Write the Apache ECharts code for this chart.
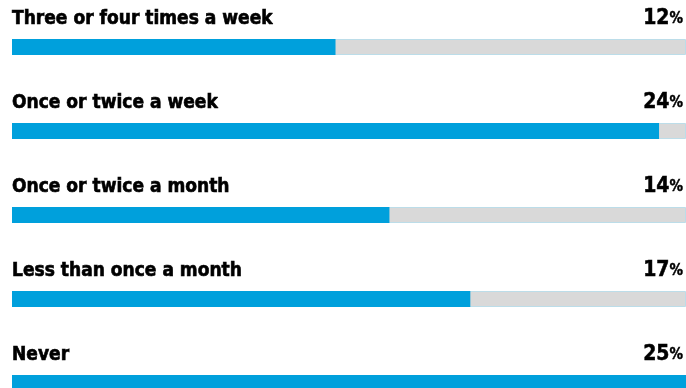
<!DOCTYPE html>
<html>
<head>
<meta charset="utf-8">
<script src="https://cdn.jsdelivr.net/npm/echarts@6/dist/echarts.min.js"></script>
<style>
  html, body { margin: 0; padding: 0; background: #ffffff; overflow: hidden; }
  /* the last row runs past the bottom edge of the window */
  #chart { width: 686px; height: 425px; }
</style>
</head>
<body>
<div id="chart"></div>
<script>
// How often: share of respondents per answer
const categories = [
  'Three or four times a week',
  'Once or twice a week',
  'Once or twice a month',
  'Less than once a month',
  'Never'
];
const values = [12, 24, 14, 17, 25];
const scaleMax = 25;

const FONT = '"Liberation Sans Narrow", "DejaVu Sans Condensed", "Roboto Condensed", sans-serif';

const chart = echarts.init(document.getElementById('chart'), null, { renderer: 'canvas' });

chart.setOption({
  animation: false,
  backgroundColor: '#ffffff',
  grid: { left: 12, right: 0, top: 5, bottom: 0, containLabel: false },
  xAxis: {
    type: 'value', min: 0, max: scaleMax,
    show: false
  },
  yAxis: {
    type: 'category', data: categories, inverse: true,
    show: false
  },
  series: [
    {
      // grey track behind each bar, carrying the value label at the right
      type: 'bar',
      data: categories.map(() => scaleMax),
      barWidth: 16,
      barGap: '-100%',
      silent: true,
      itemStyle: { color: '#d9d9d9', borderColor: '#bcdde9', borderWidth: 1 },
      label: {
        show: true,
        position: ['100%', -32],
        offset: [-3, 0],
        align: 'right',
        verticalAlign: 'top',
        formatter: p => '{n|' + values[p.dataIndex] + '}{p|%}',
        rich: {
          n: { fontFamily: FONT, fontWeight: 'bold', fontSize: 21, color: '#000000', lineHeight: 24,
               textBorderColor: '#000000', textBorderWidth: 0.5 },
          p: { fontFamily: FONT, fontWeight: 'bold', fontSize: 15, color: '#000000', lineHeight: 24,
               verticalAlign: 'middle', textBorderColor: '#000000', textBorderWidth: 0.4 }
        }
      }
    },
    {
      type: 'bar',
      data: values,
      barWidth: 16,
      barGap: '-100%',
      itemStyle: { color: '#00a0dc' },
      label: {
        show: true,
        position: [0, -32],
        align: 'left',
        verticalAlign: 'top',
        formatter: '{b}',
        fontFamily: FONT,
        fontWeight: 'bold',
        fontSize: 19,
        lineHeight: 24,
        color: '#000000',
        textBorderColor: '#000000',
        textBorderWidth: 0.6
      }
    }
  ]
});
</script>
</body>
</html>
